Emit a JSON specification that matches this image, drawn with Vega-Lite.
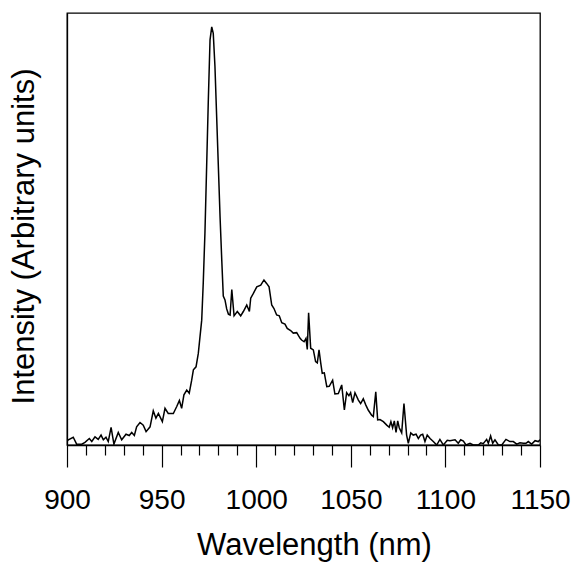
{
  "$schema": "https://vega.github.io/schema/vega-lite/v6.json",
  "width": 473,
  "height": 432,
  "autosize": {"type": "none"},
  "padding": {"left": 67, "top": 13, "right": 37, "bottom": 119},
  "background": "white",
  "config": {
    "view": {"stroke": "black", "strokeWidth": 1.3},
    "font": "Liberation Sans"
  },
  "data": {
    "values": [
      {"w": 900.3, "i": 1.0}, {"w": 900.7, "i": 1.2}, {"w": 903.3, "i": 1.8}, {"w": 905.1, "i": 0.2},
      {"w": 907.8, "i": 0.2}, {"w": 909.5, "i": 0.6}, {"w": 911.8, "i": 1.5}, {"w": 913.1, "i": 0.8},
      {"w": 914.8, "i": 1.9}, {"w": 916.5, "i": 1.3}, {"w": 918.0, "i": 2.3}, {"w": 919.2, "i": 1.2},
      {"w": 920.6, "i": 1.8}, {"w": 921.8, "i": 0.8}, {"w": 923.3, "i": 4.1}, {"w": 924.8, "i": 0.2},
      {"w": 927.1, "i": 2.9}, {"w": 928.9, "i": 1.2}, {"w": 931.2, "i": 2.5}, {"w": 932.9, "i": 2.2},
      {"w": 934.2, "i": 2.9}, {"w": 935.6, "i": 2.2}, {"w": 936.8, "i": 4.2}, {"w": 938.6, "i": 5.2},
      {"w": 940.3, "i": 4.6}, {"w": 941.8, "i": 3.1}, {"w": 943.9, "i": 4.2}, {"w": 945.6, "i": 7.9},
      {"w": 947.0, "i": 6.2}, {"w": 948.3, "i": 7.3}, {"w": 950.4, "i": 5.4}, {"w": 951.8, "i": 8.5},
      {"w": 953.5, "i": 7.3}, {"w": 956.2, "i": 7.3}, {"w": 958.0, "i": 8.9}, {"w": 959.4, "i": 10.3},
      {"w": 960.6, "i": 8.5}, {"w": 961.8, "i": 11.6}, {"w": 963.3, "i": 12.7}, {"w": 964.6, "i": 12.0},
      {"w": 965.9, "i": 15.0}, {"w": 966.8, "i": 17.4}, {"w": 968.2, "i": 18.1}, {"w": 969.4, "i": 21.2},
      {"w": 970.3, "i": 25.1}, {"w": 971.2, "i": 28.9}, {"w": 972.0, "i": 37.4}, {"w": 972.9, "i": 49.0},
      {"w": 973.8, "i": 64.4}, {"w": 974.7, "i": 79.9}, {"w": 975.6, "i": 93.8}, {"w": 976.5, "i": 96.8},
      {"w": 977.3, "i": 95.3}, {"w": 978.2, "i": 87.6}, {"w": 979.1, "i": 76.0}, {"w": 980.0, "i": 64.4},
      {"w": 980.9, "i": 52.8}, {"w": 981.8, "i": 42.8}, {"w": 982.6, "i": 34.5}, {"w": 983.5, "i": 33.6},
      {"w": 984.4, "i": 31.5}, {"w": 985.3, "i": 30.3}, {"w": 986.2, "i": 30.1}, {"w": 987.1, "i": 36.0},
      {"w": 988.3, "i": 29.9}, {"w": 990.0, "i": 30.9}, {"w": 991.8, "i": 29.9}, {"w": 993.2, "i": 30.9},
      {"w": 995.0, "i": 32.4}, {"w": 996.4, "i": 30.9}, {"w": 997.1, "i": 34.0}, {"w": 998.5, "i": 35.1},
      {"w": 1000.3, "i": 36.6}, {"w": 1002.4, "i": 37.0}, {"w": 1004.1, "i": 38.2}, {"w": 1005.5, "i": 37.4},
      {"w": 1006.8, "i": 36.6}, {"w": 1008.2, "i": 32.4}, {"w": 1009.4, "i": 31.6}, {"w": 1010.8, "i": 30.1},
      {"w": 1012.2, "i": 29.9}, {"w": 1013.5, "i": 28.3}, {"w": 1015.2, "i": 28.0}, {"w": 1016.4, "i": 27.0},
      {"w": 1018.2, "i": 26.5}, {"w": 1019.6, "i": 25.9}, {"w": 1021.4, "i": 26.0}, {"w": 1023.2, "i": 24.7},
      {"w": 1024.0, "i": 24.3}, {"w": 1025.3, "i": 23.9}, {"w": 1026.3, "i": 24.7}, {"w": 1027.0, "i": 22.1},
      {"w": 1027.7, "i": 30.6}, {"w": 1028.8, "i": 22.4}, {"w": 1030.2, "i": 22.0}, {"w": 1031.4, "i": 19.3},
      {"w": 1032.3, "i": 19.0}, {"w": 1033.2, "i": 22.0}, {"w": 1034.1, "i": 19.0}, {"w": 1034.9, "i": 16.6},
      {"w": 1036.0, "i": 16.7}, {"w": 1037.3, "i": 13.5}, {"w": 1038.6, "i": 13.6}, {"w": 1040.4, "i": 15.0},
      {"w": 1041.6, "i": 11.8}, {"w": 1043.4, "i": 11.9}, {"w": 1045.2, "i": 13.9}, {"w": 1046.6, "i": 8.1},
      {"w": 1047.8, "i": 12.1}, {"w": 1049.0, "i": 11.4}, {"w": 1049.9, "i": 12.1}, {"w": 1051.0, "i": 9.8},
      {"w": 1052.2, "i": 12.1}, {"w": 1054.0, "i": 10.4}, {"w": 1055.2, "i": 9.6}, {"w": 1056.6, "i": 10.7},
      {"w": 1057.9, "i": 9.3}, {"w": 1059.2, "i": 8.1}, {"w": 1061.0, "i": 6.9}, {"w": 1061.9, "i": 6.6},
      {"w": 1063.2, "i": 12.3}, {"w": 1064.2, "i": 5.8}, {"w": 1065.4, "i": 5.9}, {"w": 1067.2, "i": 5.4},
      {"w": 1069.0, "i": 4.6}, {"w": 1070.3, "i": 4.1}, {"w": 1071.2, "i": 5.4}, {"w": 1072.1, "i": 4.0},
      {"w": 1073.0, "i": 5.6}, {"w": 1073.9, "i": 2.9}, {"w": 1074.8, "i": 5.6}, {"w": 1075.6, "i": 4.0},
      {"w": 1076.9, "i": 2.8}, {"w": 1078.1, "i": 9.6}, {"w": 1079.5, "i": 2.3}, {"w": 1080.4, "i": 0.4},
      {"w": 1081.7, "i": 2.8}, {"w": 1083.0, "i": 2.3}, {"w": 1084.5, "i": 2.5}, {"w": 1085.7, "i": 1.5},
      {"w": 1086.9, "i": 2.3}, {"w": 1088.0, "i": 2.5}, {"w": 1089.2, "i": 0.8}, {"w": 1090.4, "i": 2.3},
      {"w": 1091.9, "i": 1.5}, {"w": 1093.6, "i": 0.8}, {"w": 1095.4, "i": 0.0}, {"w": 1097.1, "i": 1.3},
      {"w": 1098.9, "i": 0.0}, {"w": 1101.0, "i": 1.1}, {"w": 1102.4, "i": 1.0}, {"w": 1105.1, "i": 1.2},
      {"w": 1106.8, "i": 0.4}, {"w": 1108.1, "i": 1.2}, {"w": 1109.5, "i": 0.9}, {"w": 1110.9, "i": 0.0},
      {"w": 1113.0, "i": 0.4}, {"w": 1114.7, "i": 0.0}, {"w": 1117.4, "i": 0.0}, {"w": 1118.7, "i": 0.5},
      {"w": 1120.0, "i": 0.3}, {"w": 1121.8, "i": 1.3}, {"w": 1122.7, "i": 0.4}, {"w": 1123.9, "i": 2.1},
      {"w": 1125.0, "i": 0.4}, {"w": 1126.2, "i": 1.2}, {"w": 1128.0, "i": 0.0}, {"w": 1129.8, "i": 0.0},
      {"w": 1132.0, "i": 1.3}, {"w": 1134.1, "i": 0.8}, {"w": 1135.9, "i": 0.8}, {"w": 1137.7, "i": 0.2},
      {"w": 1139.4, "i": 0.5}, {"w": 1141.2, "i": 0.4}, {"w": 1142.6, "i": 0.4}, {"w": 1143.8, "i": 0.8},
      {"w": 1145.6, "i": 0.2}, {"w": 1147.4, "i": 1.0}, {"w": 1149.1, "i": 0.8}, {"w": 1150.0, "i": 1.2}
    ]
  },
  "mark": {"type": "line", "color": "black", "strokeWidth": 1.5, "clip": true},
  "encoding": {
    "x": {
      "field": "w",
      "type": "quantitative",
      "scale": {"domain": [900, 1150], "nice": false, "zero": false},
      "axis": {
        "title": "Wavelength (nm)",
        "values": [900, 910, 920, 930, 940, 950, 960, 970, 980, 990, 1000, 1010, 1020, 1030, 1040, 1050, 1060, 1070, 1080, 1090, 1100, 1110, 1120, 1130, 1140, 1150],
        "labelExpr": "datum.value % 50 === 0 ? datum.label : ''",
        "format": "d",
        "grid": false,
        "domainColor": "black",
        "domainWidth": 1.3,
        "tickColor": "black",
        "tickWidth": 1.2,
        "tickSize": {"condition": {"test": "datum.value % 50 === 0", "value": 22}, "value": 10},
        "labelFontSize": 28,
        "labelColor": "black",
        "labelPadding": 19,
        "labelFlush": false,
        "labelOverlap": false,
        "titleFontSize": 31,
        "titleFontWeight": "normal",
        "titleColor": "black",
        "titlePadding": 16,
        "titleX": 247
      }
    },
    "y": {
      "field": "i",
      "type": "quantitative",
      "scale": {"domain": [0, 100], "nice": false},
      "axis": {
        "title": "Intensity (Arbitrary units)",
        "ticks": false,
        "labels": false,
        "grid": false,
        "domainColor": "black",
        "domainWidth": 1.3,
        "titleFontSize": 31,
        "titleFontWeight": "normal",
        "titleColor": "black",
        "titlePadding": 27,
        "titleY": 223
      }
    }
  }
}
